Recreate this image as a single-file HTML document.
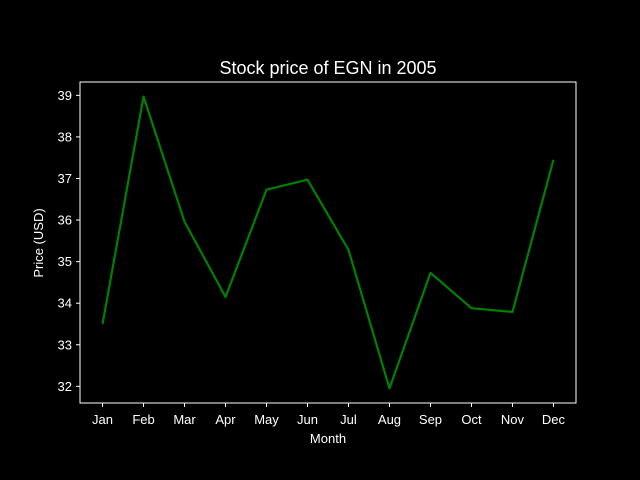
<!DOCTYPE html>
<html>
<head>
<meta charset="utf-8">
<style>
  html,body{margin:0;padding:0;background:#000;}
  svg{display:block;}
  text{font-family:"Liberation Sans","DejaVu Sans",sans-serif;fill:#fff;}
</style>
</head>
<body>
<svg id="chart" width="640" height="480" viewBox="0 0 640 480">
  <rect width="640" height="480" fill="#000"/>
  <text x="328" y="74" font-size="18" text-anchor="middle">Stock price of EGN in 2005</text>
  <g id="axes"></g>
  <text x="328" y="443" font-size="13" text-anchor="middle">Month</text>
  <text transform="translate(43,243) rotate(-90)" font-size="13" text-anchor="middle">Price (USD)</text>
</svg>
<script>
const months = ["Jan","Feb","Mar","Apr","May","Jun","Jul","Aug","Sep","Oct","Nov","Dec"];
const prices = [33.50, 38.97, 35.96, 34.15, 36.73, 36.97, 35.28, 31.95, 34.73, 33.88, 33.79, 37.45];
const yTicks = [32, 33, 34, 35, 36, 37, 38, 39];

const NS = "http://www.w3.org/2000/svg";
const L = 80, R = 576, T = 82, B = 403;
const n = months.length;
const xPad = (n - 1) * 0.05;
const xMin = -xPad, xMax = n - 1 + xPad;
const dMin = Math.min(...prices), dMax = Math.max(...prices);
const m = (dMax - dMin) * 0.05;
const yMin = dMin - m, yMax = dMax + m;
function xs(i){ return L + (i - xMin) / (xMax - xMin) * (R - L); }
function ys(v){ return B - (v - yMin) / (yMax - yMin) * (B - T); }

const g = document.getElementById("axes");
function mk(tag, attrs){ const e = document.createElementNS(NS, tag); for (const k in attrs) e.setAttribute(k, attrs[k]); g.appendChild(e); return e; }

// line
const pts = prices.map((v,i)=>xs(i).toFixed(2)+","+ys(v).toFixed(2)).join(" ");
const line = mk("polyline", {points: pts, fill: "none", stroke: "#008000", "stroke-width": 2.2, "stroke-linejoin": "round"});



// frame
const frame = mk("rect", {x: L, y: T, width: R - L, height: B - T, fill: "none", stroke: "#fff", "stroke-width": 1});



// x ticks
months.forEach((mo, i) => {
  const x = xs(i);
  const t = mk("line", {x1: x, x2: x, y1: B, y2: B + 4, stroke: "#fff", "stroke-width": 1});
  
  
  const lb = mk("text", {x: x, y: B + 21, "font-size": 13, "text-anchor": "middle"});
  lb.textContent = mo;
  
  
});

// y ticks
yTicks.forEach(v => {
  const y = ys(v);
  const t = mk("line", {x1: L - 4, x2: L, y1: y, y2: y, stroke: "#fff", "stroke-width": 1});
  
  
  const lb = mk("text", {x: L - 8, y: y + 4.5, "font-size": 13, "text-anchor": "end"});
  lb.textContent = v;
  
  
});
</script>
</body>
</html>
